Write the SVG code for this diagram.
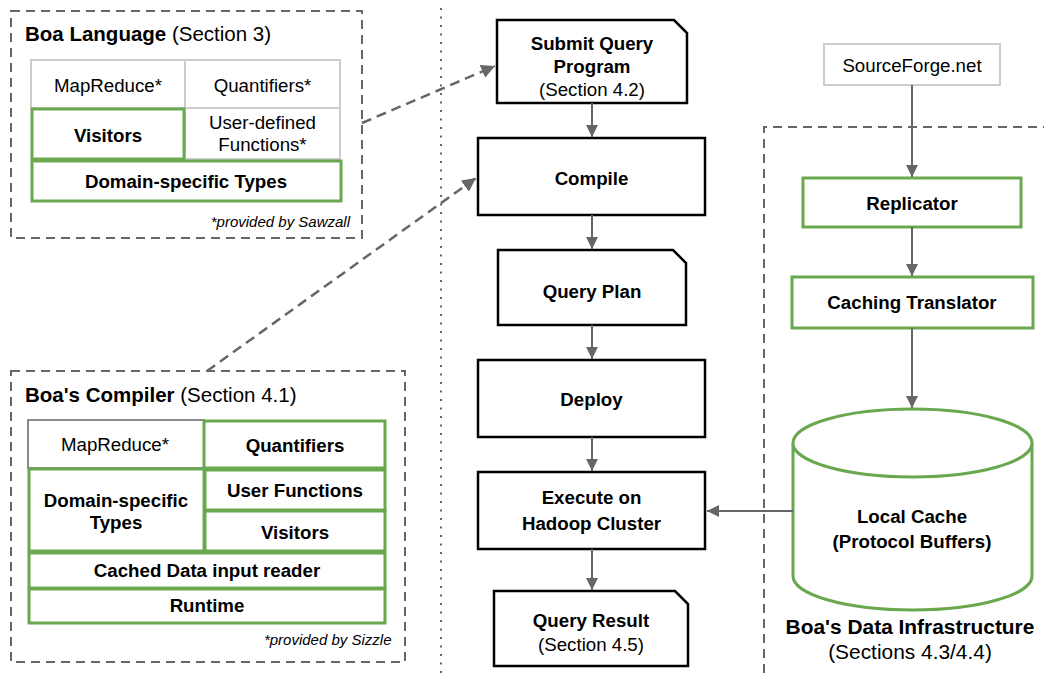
<svg xmlns="http://www.w3.org/2000/svg" width="1044" height="673" viewBox="0 0 1044 673">
  <style>
    text { font-family: "Liberation Sans", Arial, sans-serif; fill: #000; }
    .b { font-weight: bold; font-size: 18.7px; text-anchor: middle; }
    .r { font-size: 18.7px; text-anchor: middle; }
    .big { font-size: 20.9px; }
    .title { font-size: 20.5px; }
    .note { font-size: 15px; font-style: italic; text-anchor: end; }
    .grey { fill: #fff; stroke: #cccccc; stroke-width: 2; }
    .greyd { fill: #fff; stroke: #8a8a8a; stroke-width: 2; }
    .green { fill: #fff; stroke: #6aa84f; stroke-width: 3; }
    .flow { fill: #fff; stroke: #000; stroke-width: 2.5; }
    .frame { fill: none; stroke: #666; stroke-width: 2; stroke-dasharray: 9 6; }
    .link { fill: none; stroke: #666; stroke-width: 2; }
    .dlink { fill: none; stroke: #666; stroke-width: 2.5; stroke-dasharray: 10 6; }
  </style>
  <defs>
    <marker id="arr" viewBox="0 0 10 10" refX="10" refY="5" markerWidth="6" markerHeight="6" markerUnits="strokeWidth" orient="auto">
      <path d="M0,0 L10,5 L0,10 z" fill="#666"/>
    </marker>
    <marker id="darr" viewBox="0 0 10 10" refX="10" refY="5" markerWidth="5.5" markerHeight="5.5" markerUnits="strokeWidth" orient="auto">
      <path d="M0,0 L10,5 L0,10 z" fill="#666"/>
    </marker>
  </defs>

  <!-- separators and frames -->
  <g id="frames">
    <line x1="441" y1="8" x2="441" y2="673" stroke="#666" stroke-width="2" stroke-dasharray="2 6.5"/>
    <rect class="frame" x="11" y="11" width="351" height="227"/>
    <rect class="frame" x="11" y="371" width="394" height="291"/>
    <path class="frame" d="M764,673 V127 H1044"/>
  </g>

  <!-- Boa Language -->
  <g id="boa-language">
    <text x="25" y="41" class="title"><tspan font-weight="bold">Boa Language</tspan> (Section 3)</text>
    <rect class="grey" x="31" y="60" width="154" height="48"/>
    <text class="r" x="108" y="91.5">MapReduce*</text>
    <rect class="grey" x="185" y="60" width="155" height="48"/>
    <text class="r" x="262.5" y="92">Quantifiers*</text>
    <rect class="grey" x="185" y="108" width="155" height="51"/>
    <text class="r" x="262.5" y="128.5">User-defined</text>
    <text class="r" x="262.5" y="150.5">Functions*</text>
    <rect class="green" x="32" y="109" width="152" height="50"/>
    <text class="b" x="108" y="142">Visitors</text>
    <rect class="green" x="32" y="161" width="309" height="40"/>
    <text class="b" x="186" y="188">Domain-specific Types</text>
    <text class="note" x="350" y="227">*provided by Sawzall</text>
  </g>

  <!-- Boa's Compiler -->
  <g id="boa-compiler">
    <text x="25" y="401.5" class="title"><tspan font-weight="bold">Boa's Compiler</tspan> (Section 4.1)</text>
    <rect class="greyd" x="28" y="420" width="176" height="48"/>
    <text class="r" x="115" y="450.5">MapReduce*</text>
    <rect class="green" x="204" y="421" width="181" height="47"/>
    <text class="b" x="295" y="452">Quantifiers</text>
    <rect class="green" x="29" y="469" width="175" height="82"/>
    <text class="b" x="116" y="506.5">Domain-specific</text>
    <text class="b" x="116" y="528.5">Types</text>
    <rect class="green" x="205" y="470" width="180" height="40"/>
    <text class="b" x="295" y="497">User Functions</text>
    <rect class="green" x="205" y="511" width="180" height="40"/>
    <text class="b" x="295" y="538.5">Visitors</text>
    <rect class="green" x="29" y="553" width="356" height="35"/>
    <text class="b" x="207" y="577">Cached Data input reader</text>
    <rect class="green" x="29" y="589" width="356" height="34"/>
    <text class="b" x="207" y="612">Runtime</text>
    <text class="note" x="391.5" y="645">*provided by Sizzle</text>
  </g>

  <!-- query pipeline -->
  <g id="submit">
    <path class="flow" d="M497,20 H674 L687,33 V103 H497 Z"/>
    <text class="b" x="592" y="50">Submit Query</text>
    <text class="b" x="592" y="72.5">Program</text>
    <text class="r" x="592" y="95.5">(Section 4.2)</text>
  </g>
  <g id="compile">
    <rect class="flow" x="478" y="138" width="227" height="77"/>
    <text class="b" x="591.5" y="185">Compile</text>
  </g>
  <g id="query-plan">
    <path class="flow" d="M498,250 H673 L686,263 V325 H498 Z"/>
    <text class="b" x="592" y="298">Query Plan</text>
  </g>
  <g id="deploy">
    <rect class="flow" x="478" y="360" width="227" height="77"/>
    <text class="b" x="591.5" y="406">Deploy</text>
  </g>
  <g id="execute">
    <rect class="flow" x="478" y="472" width="227" height="77"/>
    <text class="b" x="591.5" y="503.5">Execute on</text>
    <text class="b" x="591.5" y="529.5">Hadoop Cluster</text>
  </g>
  <g id="query-result">
    <path class="flow" d="M494,591 H675 L688,604 V666 H494 Z"/>
    <text class="b" x="591" y="627">Query Result</text>
    <text class="r" x="591" y="651">(Section 4.5)</text>
  </g>

  <!-- data infrastructure -->
  <g id="sourceforge">
    <rect class="grey" x="824" y="44" width="176" height="41"/>
    <text class="r" x="912" y="71.5">SourceForge.net</text>
  </g>
  <g id="replicator">
    <rect class="green" x="803" y="178" width="218" height="49"/>
    <text class="b" x="912" y="209.5">Replicator</text>
  </g>
  <g id="caching-translator">
    <rect class="green" x="792" y="277" width="241" height="51"/>
    <text class="b" x="912" y="308.5">Caching Translator</text>
  </g>
  <g id="local-cache">
    <path class="green" d="M793,443 V576 A119.5,34 0 0 0 1032,576 V443"/>
    <ellipse class="green" cx="912.5" cy="443" rx="119.5" ry="34"/>
    <text class="b" x="912" y="522.5">Local Cache</text>
    <text class="b" x="912" y="547.5">(Protocol Buffers)</text>
  </g>
  <g id="infra-label">
    <text class="b big" x="910" y="633.5">Boa's Data Infrastructure</text>
    <text class="r big" x="910" y="658.5">(Sections 4.3/4.4)</text>
  </g>

  <!-- connectors -->
  <g id="connectors">
    <line class="link" x1="592" y1="103" x2="592" y2="137" marker-end="url(#arr)"/>
    <line class="link" x1="592" y1="215" x2="592" y2="249" marker-end="url(#arr)"/>
    <line class="link" x1="592" y1="325" x2="592" y2="359" marker-end="url(#arr)"/>
    <line class="link" x1="592" y1="437" x2="592" y2="471" marker-end="url(#arr)"/>
    <line class="link" x1="592" y1="549" x2="592" y2="590" marker-end="url(#arr)"/>
    <line class="link" x1="912" y1="85" x2="912" y2="177" marker-end="url(#arr)"/>
    <line class="link" x1="912" y1="227" x2="912" y2="276" marker-end="url(#arr)"/>
    <line class="link" x1="912" y1="328" x2="912" y2="408" marker-end="url(#arr)"/>
    <line class="link" x1="793" y1="511" x2="707" y2="511" marker-end="url(#arr)"/>
    <line class="dlink" x1="362" y1="123" x2="495" y2="66" marker-end="url(#darr)"/>
    <line class="dlink" x1="207" y1="371" x2="476" y2="178" marker-end="url(#darr)"/>
  </g>
</svg>
